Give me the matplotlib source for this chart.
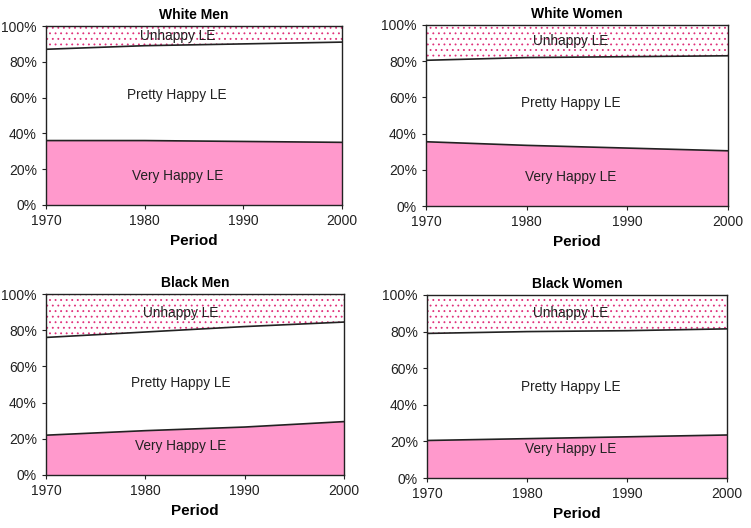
import matplotlib
matplotlib.use("Agg")
import matplotlib.pyplot as plt
from matplotlib.ticker import PercentFormatter

plt.rcParams['font.family'] = ['Liberation Sans', 'DejaVu Sans']
plt.rcParams['hatch.linewidth'] = 0.6

years = [1970, 1980, 1990, 2000]
titles = ["White Men", "White Women", "Black Men", "Black Women"]

# shares of life expectancy (%)
very_happy = {
    "White Men": [36, 36, 35.5, 35],
    "White Women": [35.5, 33.5, 32, 30.5],
    "Black Men": [22, 24.5, 26.5, 29.5],
    "Black Women": [20.5, 21.5, 22.5, 23.5],
}
pretty_happy = {
    "White Men": [51, 53, 54.5, 56],
    "White Women": [45, 48.5, 50.5, 52.5],
    "Black Men": [54, 54.5, 55.5, 55],
    "Black Women": [58.5, 58.5, 58, 58],
}
unhappy = {
    "White Men": [13, 11, 10, 9],
    "White Women": [19.5, 18, 17.5, 17],
    "Black Men": [24, 21, 18, 15.5],
    "Black Women": [21, 20, 19.5, 18.5],
}

PINK = '#ff99cc'
DOT = '#e0307a'

fig = plt.figure(figsize=(7.51, 5.28), dpi=100)
# axes positions in pixels (left, top, right, bottom) + label x
boxes = [(46, 26, 342, 205), (426, 25, 728, 206),
         (46, 294, 344, 475), (427, 295, 727, 478)]
label_x = [1983.3, 1984.4, 1983.6, 1984.4]
W, H = 751, 528

for name, (l, t, r, b), lx in zip(titles, boxes, label_x):
    ax = fig.add_axes([l / W, 1 - b / H, (r - l) / W, (b - t) / H])
    vh = very_happy[name]
    ph = [v + p for v, p in zip(vh, pretty_happy[name])]
    top = [p + u for p, u in zip(ph, unhappy[name])]
    ax.fill_between(years, 0, vh, facecolor=PINK, edgecolor='none')
    ax.fill_between(years, vh, ph, facecolor='white', edgecolor='none')
    ax.fill_between(years, ph, top, facecolor='white', edgecolor=DOT,
                    hatch='...', linewidth=0)
    ax.plot(years, vh, color='#222222', lw=1.2)
    ax.plot(years, ph, color='#222222', lw=1.2)

    ax.set_xlim(1970, 2000)
    ax.set_ylim(0, 100)
    ax.set_xticks(years)
    ax.set_yticks(range(0, 101, 20))
    ax.yaxis.set_major_formatter(PercentFormatter(decimals=0))
    ax.tick_params(labelsize=10, direction='out', length=3, width=0.8,
                   colors='#222222')
    for s in ax.spines.values():
        s.set_color('#222222')
        s.set_linewidth(1.0)

    ax.set_title(name, fontsize=10, fontweight='bold', pad=5)
    ax.set_xlabel("Period", fontsize=11, fontweight='bold', labelpad=4)

    ax.text(lx, 16, "Very Happy LE", ha='center',
            va='center', fontsize=9.8, color='#222222')
    ax.text(lx, (vh[1] + ph[1]) / 2 - 1, "Pretty Happy LE", ha='center',
            va='center', fontsize=9.8, color='#222222')
    ax.text(lx, (ph[1] + 100) / 2, "Unhappy LE", ha='center',
            va='center', fontsize=9.8, color='#222222')

fig.savefig("out.png", dpi=100)
